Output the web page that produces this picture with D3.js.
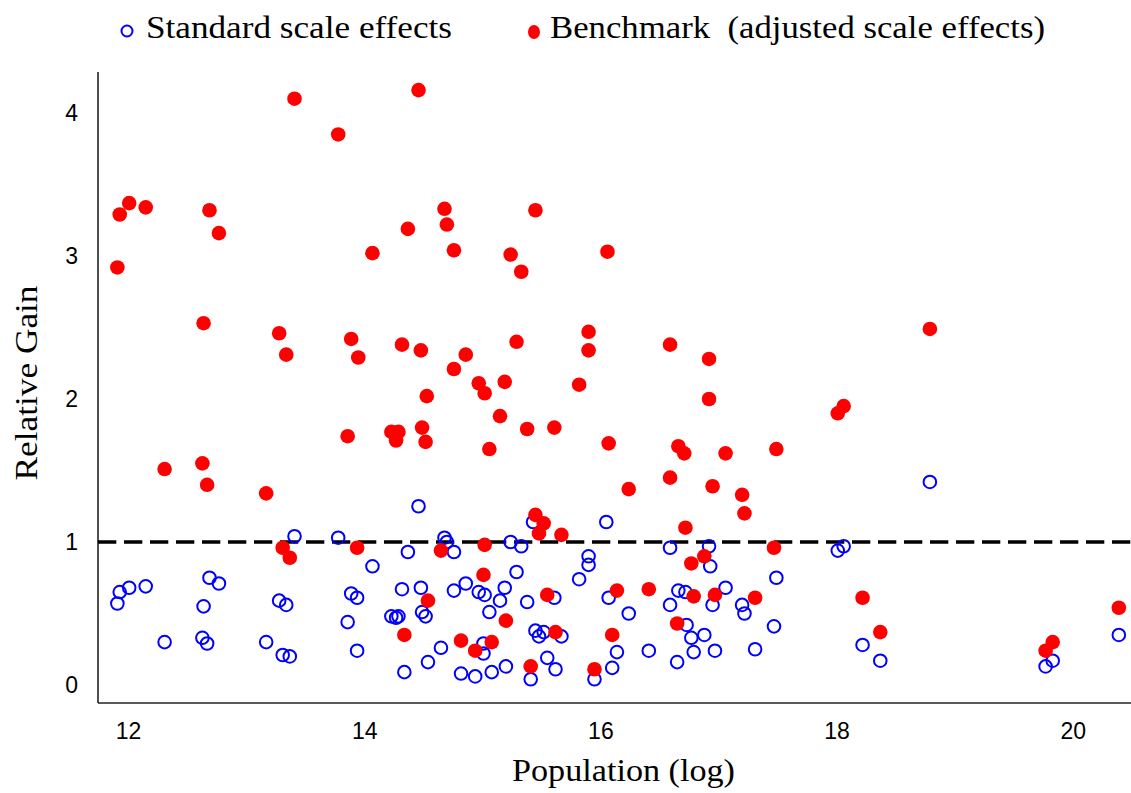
<!DOCTYPE html>
<html>
<head>
<meta charset="utf-8">
<script src="https://cdn.jsdelivr.net/npm/d3@7/dist/d3.min.js"></script>
<style>
  html, body { margin: 0; padding: 0; background: #fff; }
  svg { display: block; }
</style>
</head>
<body>
<svg id="chart" width="1131" height="793"></svg>
<script>
// ---- Data ----
const xTicks = [12, 14, 16, 18, 20];
const yTicks = [0, 1, 2, 3, 4];
const seriesNames = ["Standard scale effects", "Benchmark  (adjusted scale effects)"];
const baseline = 1;

// Standard scale effects (open blue circles)
const stdX = [13.41,13.78,11.93,12.01,12.15,11.91,12.69,12.77,12.64,13.28,13.34,13.89,13.94,13.86,12.31,12.63,12.67,13.17,13.31,13.37,13.94,
  14.46,15.43,16.05,14.68,14.70,14.76,14.37,15.24,15.33,14.07,15.90,15.90,15.82,15.29,14.32,14.48,14.86,14.76,14.97,15.02,15.19,15.15,15.38,15.61,16.07,
  14.49,14.52,14.23,14.29,14.27,15.06,15.45,15.48,15.52,15.67,14.65,15.01,15.01,14.54,14.34,14.82,14.94,15.08,15.20,15.55,15.62,15.41,15.95,16.10,16.14,
  16.59,16.92,16.93,18.01,18.06,17.49,16.24,16.41,16.59,16.66,16.72,17.06,16.95,17.20,17.22,16.73,16.77,16.88,16.79,16.97,17.31,16.65,17.47,18.22,
  18.79,18.37,19.83,19.77,20.39];
const stdY = [1.04,1.03,0.65,0.68,0.69,0.57,0.75,0.71,0.55,0.59,0.56,0.64,0.61,0.44,0.30,0.33,0.29,0.30,0.21,0.20,0.24,
  1.25,1.14,1.14,1.03,1.00,0.93,0.93,1.00,0.97,0.83,0.90,0.84,0.74,0.79,0.67,0.68,0.71,0.66,0.65,0.63,0.68,0.59,0.58,0.61,0.61,
  0.51,0.48,0.48,0.48,0.47,0.51,0.38,0.34,0.37,0.34,0.26,0.29,0.22,0.16,0.09,0.08,0.06,0.09,0.13,0.19,0.11,0.04,0.04,0.12,0.23,
  0.96,0.97,0.83,0.94,0.97,0.75,0.50,0.24,0.56,0.66,0.65,0.68,0.56,0.56,0.50,0.42,0.33,0.35,0.23,0.24,0.25,0.16,0.41,0.28,
  1.42,0.17,0.17,0.13,0.35];

// Benchmark (filled red dots)
const benchX = [13.41,13.78,12.01,11.93,12.15,12.69,12.77,11.91,12.64,13.28,13.34,13.89,13.95,
  14.46,14.68,14.70,14.37,15.45,14.07,14.76,15.24,15.33,16.06,14.32,14.48,14.86,14.76,15.29,15.90,15.90,14.97,15.02,15.19,15.82,14.53,
  16.59,16.92,16.92,18.79,
  12.31,12.63,12.67,13.17,13.86,13.31,13.37,13.94,
  15.15,14.23,14.29,14.27,14.49,14.52,15.38,15.61,15.06,16.07,15.45,15.52,15.48,15.67,14.65,15.02,15.01,14.54,15.55,16.14,15.20,14.34,14.82,15.08,14.94,15.62,16.10,15.41,15.95,
  18.06,18.01,16.66,16.71,17.06,17.49,16.59,16.24,16.95,17.20,17.22,16.72,17.47,16.88,16.77,16.41,16.79,16.97,17.31,18.22,16.65,
  18.37,20.39,19.83,19.77];
const benchY = [4.10,3.85,3.37,3.29,3.34,3.32,3.16,2.92,2.53,2.46,2.31,2.42,2.29,
  4.16,3.33,3.22,3.19,3.32,3.02,3.04,3.01,2.89,3.03,2.38,2.34,2.31,2.21,2.40,2.47,2.34,2.11,2.04,2.12,2.10,2.02,
  2.38,2.28,2.00,2.49,
  1.51,1.55,1.40,1.34,1.74,0.96,0.89,0.96,
  1.88,1.77,1.77,1.71,1.80,1.70,1.79,1.80,1.65,1.69,1.19,1.13,1.06,1.05,0.94,0.98,0.77,0.59,0.63,0.66,0.45,0.35,0.31,0.30,0.24,0.37,0.35,0.13,0.11,
  1.95,1.90,1.67,1.62,1.62,1.65,1.45,1.37,1.39,1.33,1.20,1.10,0.96,0.90,0.85,0.67,0.62,0.63,0.61,0.61,0.43,
  0.37,0.54,0.30,0.24];

// ---- Layout ----
const svg = d3.select("#chart");
const plotL = 98, plotR = 1131, plotT = 72, plotB = 703;

const x = d3.scaleLinear().domain([11.746, 20.493]).range([plotL, plotR]);
const y = d3.scaleLinear().domain([-0.1259, 4.2867]).range([plotB, plotT]);

const sans = "'Liberation Sans', Arial, Helvetica, sans-serif";
const serif = "'Liberation Serif', 'Times New Roman', serif";

// Tick labels via axes (no tick marks, no domain path)
const gx = svg.append("g").attr("transform", `translate(0,${plotB})`)
  .call(d3.axisBottom(x).tickValues(xTicks).tickSize(0).tickPadding(20).tickFormat(d3.format("d")));
gx.select(".domain").remove();
gx.selectAll("text").attr("font-family", sans).attr("font-size", 23).attr("fill", "#000");

const gy = svg.append("g").attr("transform", `translate(${plotL},0)`)
  .call(d3.axisLeft(y).tickValues(yTicks).tickSize(0).tickPadding(20).tickFormat(d3.format("d")));
gy.select(".domain").remove();
gy.selectAll("text").attr("font-family", sans).attr("font-size", 23).attr("fill", "#000");

// Axis lines
svg.append("line").attr("x1", plotL).attr("x2", plotL).attr("y1", plotT).attr("y2", plotB)
  .attr("stroke", "#222").attr("stroke-width", 1.6);
svg.append("line").attr("x1", plotL).attr("x2", plotR).attr("y1", plotB).attr("y2", plotB)
  .attr("stroke", "#222").attr("stroke-width", 1.6);

// Dashed reference line at 1
svg.append("line")
  .attr("x1", x.range()[0]).attr("x2", x.range()[1])
  .attr("y1", y(baseline)).attr("y2", y(baseline))
  .attr("stroke", "#000").attr("stroke-width", 3.6)
  .attr("stroke-dasharray", "18.3,7.7");

// Standard (open blue circles)
const stdData = stdX.map((v, i) => ({x: v, y: stdY[i]}));
svg.append("g").selectAll("circle").data(stdData).join("circle")
  .attr("cx", d => x(d.x)).attr("cy", d => y(d.y)).attr("r", 6.3)
  .attr("fill", "none").attr("stroke", "#0000ff").attr("stroke-width", 2);

// Benchmark (filled red circles)
const benchData = benchX.map((v, i) => ({x: v, y: benchY[i]}));
svg.append("g").selectAll("circle").data(benchData).join("circle")
  .attr("cx", d => x(d.x)).attr("cy", d => y(d.y)).attr("r", 7.3)
  .attr("fill", "#ff0000");

// Axis titles
svg.append("text").attr("x", 623.5).attr("y", 781)
  .attr("text-anchor", "middle").attr("font-family", serif).attr("font-size", 32)
  .attr("textLength", 223).attr("lengthAdjust", "spacingAndGlyphs")
  .text("Population (log)");

svg.append("text").attr("transform", "translate(37,383) rotate(-90)")
  .attr("text-anchor", "middle").attr("font-family", serif).attr("font-size", 32)
  .attr("textLength", 195).attr("lengthAdjust", "spacingAndGlyphs")
  .text("Relative Gain");

// Legend
svg.append("circle").attr("cx", 127).attr("cy", 31).attr("r", 5.5)
  .attr("fill", "none").attr("stroke", "#0000ff").attr("stroke-width", 2);
svg.append("text").attr("x", 146).attr("y", 38)
  .attr("font-family", serif).attr("font-size", 32)
  .attr("textLength", 306).attr("lengthAdjust", "spacingAndGlyphs")
  .text(seriesNames[0]);

svg.append("ellipse").attr("cx", 534).attr("cy", 32).attr("rx", 6).attr("ry", 7)
  .attr("fill", "#ff0000");
svg.append("text").attr("x", 550).attr("y", 38)
  .attr("font-family", serif).attr("font-size", 32)
  .attr("textLength", 495).attr("lengthAdjust", "spacingAndGlyphs")
  .style("white-space", "pre")
  .text(seriesNames[1]);
</script>
</body>
</html>
